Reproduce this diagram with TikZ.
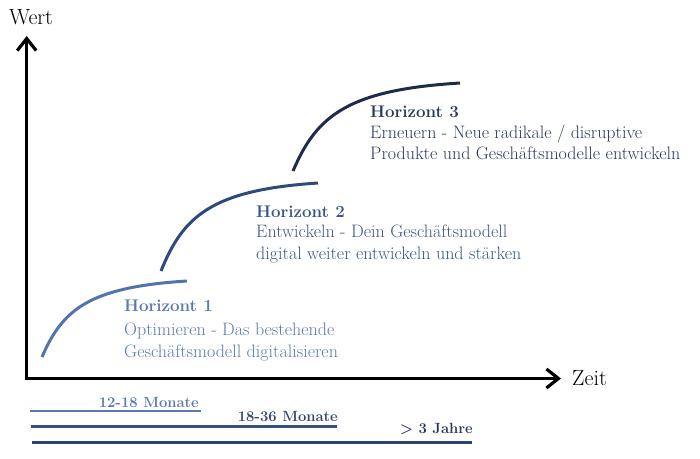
\documentclass[tikz,border=0pt]{standalone}
\usetikzlibrary{arrows.meta}
\definecolor{hone}{HTML}{5A79AE}
\definecolor{htwo}{HTML}{3A5688}
\definecolor{hthree}{HTML}{2A3A5C}
\definecolor{cone}{HTML}{5274AD}
\definecolor{ctwo}{HTML}{2E4A7C}
\definecolor{cthree}{HTML}{1E2B4A}
\definecolor{bone}{HTML}{5A7AAF}
\definecolor{btwo}{HTML}{34507F}
\definecolor{bthree}{HTML}{2C4570}
\definecolor{ltwo}{HTML}{34456B}
\definecolor{lthree}{HTML}{2A3558}
\tikzset{
  axis/.style={line width=3.2pt, black, -{Straight Barb[length=12pt,width=19pt,line width=3.2pt]}},
  curve/.style={line width=3pt},
  bar/.style={line width=2.8pt},
  head/.style={anchor=base west, inner sep=0pt, font=\fontsize{16.9}{20}\selectfont\bfseries},
  desc/.style={anchor=base west, inner sep=0pt, font=\fontsize{18}{22}\selectfont},
  axlabel/.style={inner sep=0pt, font=\fontsize{22}{26}\selectfont},
  barlabel/.style={anchor=base east, inner sep=0pt, font=\fontsize{14.8}{18}\selectfont\bfseries},
}
\begin{document}
\begin{tikzpicture}[x=1pt,y=-1pt]
\useasboundingbox (0,0) rectangle (700,458);
% axes
\coordinate (origin) at (26.7,379.6);
\coordinate (ytip) at (26.7,36);
\coordinate (xstart) at (25.1,378.5);
\coordinate (xtip) at (561,378.5);
\draw[axis] (origin) -- (ytip);
\draw[axis] (xstart) -- (xtip);
\node[axlabel, anchor=base west] (wert) at (9,24) {Wert};
\node[axlabel, anchor=base west] (zeit) at (572,385) {Zeit};
% curves
\coordinate (s1) at (42,357);
\coordinate (e1) at (187,281);
\coordinate (s2) at (161,271);
\coordinate (e2) at (318,183);
\coordinate (s3) at (293,171);
\coordinate (e3) at (460,83);
\draw[curve, cone] (s1) .. controls (62.3,309.9) and (88.4,287.1) .. (e1);
\draw[curve, ctwo] (s2) .. controls (183.0,216.4) and (211.2,190.0) .. (e2);
\draw[curve, cthree] (s3) .. controls (316.4,116.4) and (346.4,90.0) .. (e3);
% texts horizon 1
\node[head, hone] (h1) at (124,311) {Horizont 1};
\node[desc, hone] (h1a) at (124,335) {Optimieren - Das bestehende};
\node[desc, hone] (h1b) at (124,357) {Geschäftsmodell digitalisieren};
% horizon 2
\node[head, htwo] (h2) at (256,217) {Horizont 2};
\node[desc, htwo] (h2a) at (256,237) {Entwickeln - Dein Geschäftsmodell};
\node[desc, htwo] (h2b) at (256,259) {digital weiter entwickeln und stärken};
% horizon 3
\node[head, hthree] (h3) at (370,117) {Horizont 3};
\node[desc, hthree] (h3a) at (370,138) {Erneuern - Neue radikale / disruptive};
\node[desc, hthree] (h3b) at (370,159) {Produkte und Geschäftsmodelle entwickeln};
% bars
\coordinate (b1s) at (30,411);
\coordinate (b1e) at (201,411);
\coordinate (b2s) at (31,426.7);
\coordinate (b2e) at (337,426.7);
\coordinate (b3s) at (32,442.7);
\coordinate (b3e) at (472,442.7);
\draw[bar, bone] (b1s) -- (b1e);
\draw[bar, btwo] (b2s) -- (b2e);
\draw[bar, bthree] (b3s) -- (b3e);
\node[barlabel, hone] (l1) at (199,407) {12-18 Monate};
\node[barlabel, ltwo] (l2) at (338,421) {18-36 Monate};
\node[barlabel, lthree] (l3) at (473,433) {> 3 Jahre};
\end{tikzpicture}
\end{document}
